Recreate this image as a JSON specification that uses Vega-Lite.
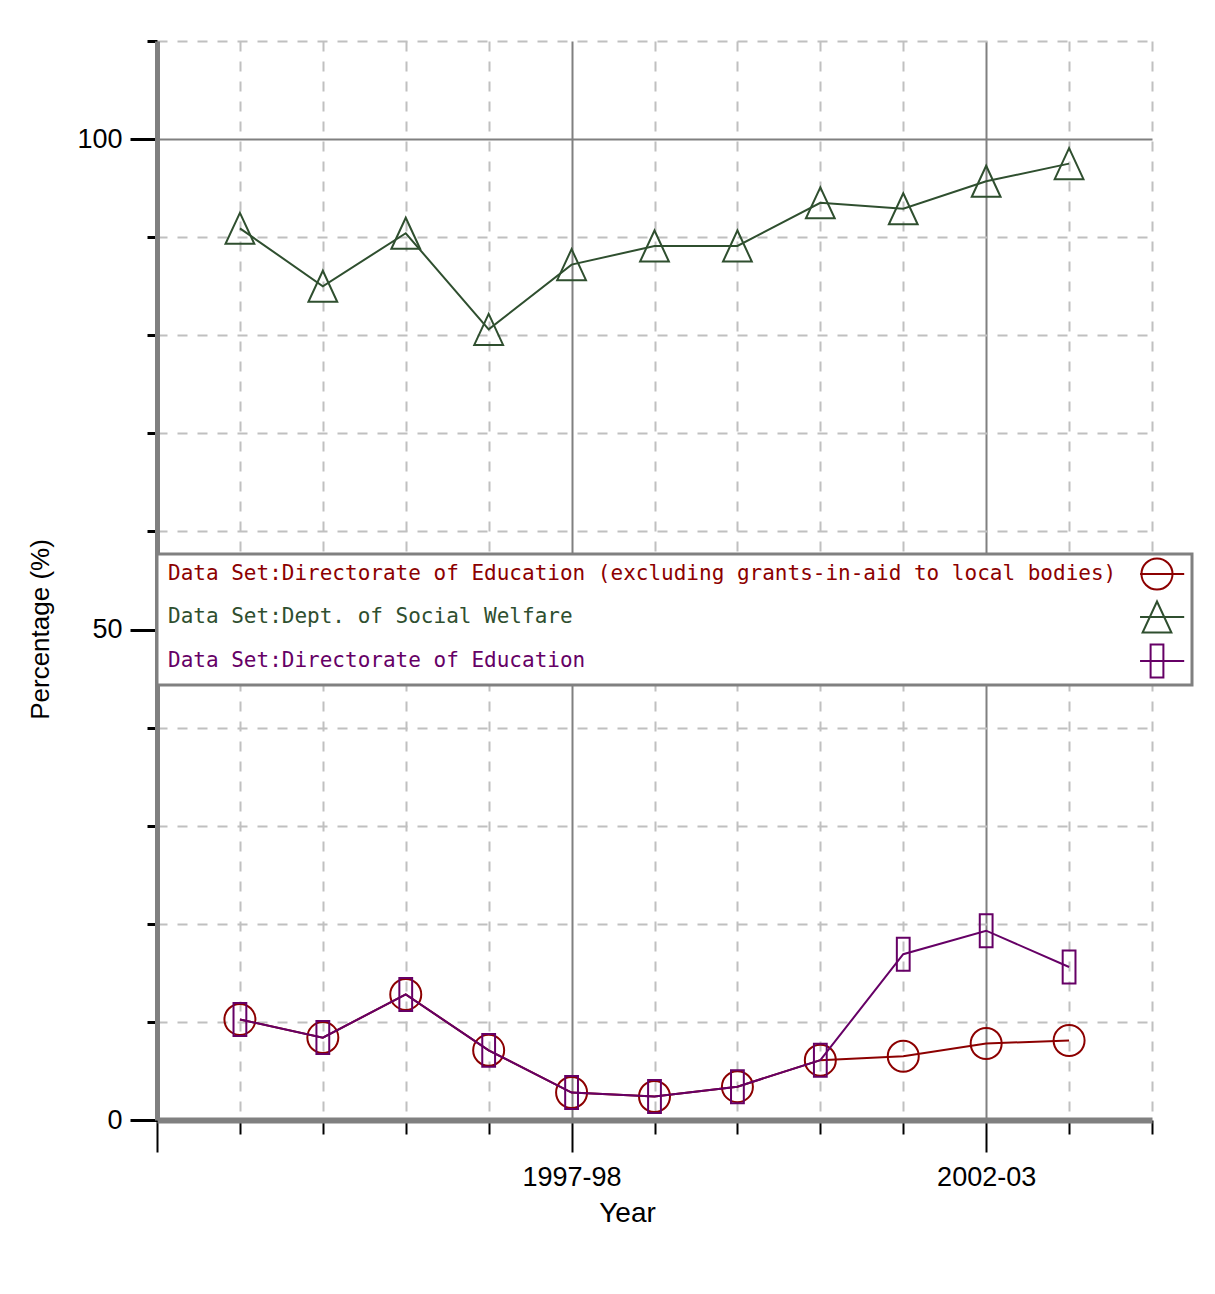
{
  "$schema": "https://vega.github.io/schema/vega-lite/v6.json",
  "width": 995,
  "height": 1079,
  "autosize": "none",
  "padding": {"left": 157, "top": 41, "right": 63, "bottom": 174},
  "background": "white",
  "config": {"view": {"stroke": null}},
  "data": {"values": [
    {"year": 1993, "series": "Directorate of Education (excluding grants-in-aid to local bodies)", "value": 10.25},
    {"year": 1994, "series": "Directorate of Education (excluding grants-in-aid to local bodies)", "value": 8.4},
    {"year": 1995, "series": "Directorate of Education (excluding grants-in-aid to local bodies)", "value": 12.8},
    {"year": 1996, "series": "Directorate of Education (excluding grants-in-aid to local bodies)", "value": 7.1},
    {"year": 1997, "series": "Directorate of Education (excluding grants-in-aid to local bodies)", "value": 2.8},
    {"year": 1998, "series": "Directorate of Education (excluding grants-in-aid to local bodies)", "value": 2.4},
    {"year": 1999, "series": "Directorate of Education (excluding grants-in-aid to local bodies)", "value": 3.4},
    {"year": 2000, "series": "Directorate of Education (excluding grants-in-aid to local bodies)", "value": 6.1},
    {"year": 2001, "series": "Directorate of Education (excluding grants-in-aid to local bodies)", "value": 6.5},
    {"year": 2002, "series": "Directorate of Education (excluding grants-in-aid to local bodies)", "value": 7.8},
    {"year": 2003, "series": "Directorate of Education (excluding grants-in-aid to local bodies)", "value": 8.1},
    {"year": 1993, "series": "Dept. of Social Welfare", "value": 90.9},
    {"year": 1994, "series": "Dept. of Social Welfare", "value": 85.0},
    {"year": 1995, "series": "Dept. of Social Welfare", "value": 90.4},
    {"year": 1996, "series": "Dept. of Social Welfare", "value": 80.6},
    {"year": 1997, "series": "Dept. of Social Welfare", "value": 87.2},
    {"year": 1998, "series": "Dept. of Social Welfare", "value": 89.1},
    {"year": 1999, "series": "Dept. of Social Welfare", "value": 89.1},
    {"year": 2000, "series": "Dept. of Social Welfare", "value": 93.5},
    {"year": 2001, "series": "Dept. of Social Welfare", "value": 92.9},
    {"year": 2002, "series": "Dept. of Social Welfare", "value": 95.7},
    {"year": 2003, "series": "Dept. of Social Welfare", "value": 97.5},
    {"year": 1993, "series": "Directorate of Education", "value": 10.25},
    {"year": 1994, "series": "Directorate of Education", "value": 8.4},
    {"year": 1995, "series": "Directorate of Education", "value": 12.8},
    {"year": 1996, "series": "Directorate of Education", "value": 7.1},
    {"year": 1997, "series": "Directorate of Education", "value": 2.8},
    {"year": 1998, "series": "Directorate of Education", "value": 2.4},
    {"year": 1999, "series": "Directorate of Education", "value": 3.4},
    {"year": 2000, "series": "Directorate of Education", "value": 6.1},
    {"year": 2001, "series": "Directorate of Education", "value": 16.9},
    {"year": 2002, "series": "Directorate of Education", "value": 19.3},
    {"year": 2003, "series": "Directorate of Education", "value": 15.6}
  ]},
  "encoding": {
    "x": {
      "field": "year", "type": "quantitative",
      "scale": {"domain": [1992, 2004], "nice": false, "zero": false},
      "axis": {
        "values": [1992, 1993, 1994, 1995, 1996, 1997, 1998, 1999, 2000, 2001, 2002, 2003, 2004],
        "labelExpr": "datum.value == 1997 ? '1997-98' : datum.value == 2002 ? '2002-03' : ''",
        "labelFont": "Liberation Sans", "labelFontSize": 27, "labelColor": "black",
        "labelPadding": 12, "labelFlush": false, "labelOverlap": false,
        "domainColor": "#808080", "domainWidth": 6,
        "tickColor": "black", "tickWidth": 2,
        "tickSize": {"condition": {"test": "datum.value == 1992 || datum.value == 1997 || datum.value == 2002", "value": 32}, "value": 14},
        "grid": true,
        "gridColor": {"condition": {"test": "datum.value == 1997 || datum.value == 2002", "value": "#808080"}, "value": "#c0c0c0"},
        "gridDash": {"condition": {"test": "datum.value == 1997 || datum.value == 2002", "value": []}, "value": [10, 10]},
        "gridWidth": 2,
        "title": "Year", "titleFont": "Liberation Sans", "titleFontSize": 28, "titleFontWeight": "normal", "titleColor": "black",
        "titleX": 470, "titleY": 93, "titleBaseline": "middle", "titleAlign": "center"
      }
    },
    "y": {
      "field": "value", "type": "quantitative",
      "scale": {"domain": [0, 110], "nice": false},
      "axis": {
        "values": [0, 10, 20, 30, 40, 50, 60, 70, 80, 90, 100, 110],
        "labelExpr": "datum.value % 50 == 0 ? datum.label : ''",
        "labelFont": "Liberation Sans", "labelFontSize": 27, "labelColor": "black",
        "labelPadding": 8,
        "domainColor": "#808080", "domainWidth": 5,
        "tickColor": "black", "tickWidth": 3,
        "tickSize": {"condition": {"test": "datum.value % 50 == 0", "value": 27}, "value": 10},
        "grid": true,
        "gridColor": {"condition": {"test": "datum.value == 50 || datum.value == 100", "value": "#808080"}, "value": "#c0c0c0"},
        "gridDash": {"condition": {"test": "datum.value == 50 || datum.value == 100", "value": []}, "value": [10, 10]},
        "gridWidth": 2,
        "title": "Percentage (%)", "titleFont": "Liberation Sans", "titleFontSize": 26, "titleFontWeight": "normal", "titleColor": "black",
        "titleX": -117, "titleY": 588, "titleBaseline": "middle", "titleAlign": "center", "titleAngle": -90
      }
    },
    "color": {
      "field": "series", "type": "nominal",
      "scale": {
        "domain": ["Directorate of Education (excluding grants-in-aid to local bodies)", "Dept. of Social Welfare", "Directorate of Education"],
        "range": ["#8c0000", "#2f4f2f", "#660066"]
      },
      "legend": {
        "title": null,
        "orient": "none", "legendX": 0, "legendY": 513, "direction": "vertical",
        "padding": 3, "rowPadding": 3,
        "strokeColor": "#808080", "fillColor": "white",
        "symbolSize": 1024, "symbolStrokeWidth": 2, "symbolOffset": 980,
        "labelOffset": -1006, "labelLimit": 1500,
        "labelFont": "DejaVu Sans Mono", "labelFontSize": 21,
        "labelExpr": "'Data Set:' + datum.label",
        "encode": {
          "legend": {"update": {"stroke": {"value": "#808080"}, "strokeWidth": {"value": 3}, "fill": {"value": "white"}}},
          "labels": {"update": {"fill": {"scale": "color", "field": "value"}}},
          "symbols": {"update": {
            "shape": {"signal": "datum.value == 'Dept. of Social Welfare' ? 'M0,-0.97L-0.9,0.97L0.9,0.97ZM-1.06,0L1.7,0' : datum.value == 'Directorate of Education' ? 'M-0.4,-1.03L0.4,-1.03L0.4,1.03L-0.4,1.03ZM-1.06,0L1.7,0' : 'M0.97,0A0.97,0.97 0 1,1 -0.97,0A0.97,0.97 0 1,1 0.97,0ZM-1.06,0L1.7,0'"},
            "stroke": {"scale": "color", "field": "value"},
            "fill": {"value": "transparent"},
            "strokeWidth": {"value": 2},
            "size": {"value": 1024},
            "opacity": {"value": 1}
          }}
        }
      }
    }
  },
  "layer": [
    {"transform": [{"filter": "indexof(datum.series, 'excluding') >= 0"}], "mark": {"type": "line", "strokeWidth": 2}},
    {"transform": [{"filter": "indexof(datum.series, 'excluding') >= 0"}], "mark": {"type": "point", "shape": "circle", "size": 961, "strokeWidth": 2, "filled": false, "opacity": 1}},
    {"transform": [{"filter": "datum.series == 'Dept. of Social Welfare'"}], "mark": {"type": "line", "strokeWidth": 2}},
    {"transform": [{"filter": "datum.series == 'Dept. of Social Welfare'"}], "mark": {"type": "point", "shape": "M0,-0.97L-0.9,0.97L0.9,0.97Z", "size": 1024, "strokeWidth": 2, "filled": false, "opacity": 1}},
    {"transform": [{"filter": "datum.series == 'Directorate of Education'"}], "mark": {"type": "line", "strokeWidth": 2}},
    {"transform": [{"filter": "datum.series == 'Directorate of Education'"}], "mark": {"type": "point", "shape": "M-0.4,-1.03L0.4,-1.03L0.4,1.03L-0.4,1.03Z", "size": 1024, "strokeWidth": 2, "filled": false, "opacity": 1}}
  ]
}
